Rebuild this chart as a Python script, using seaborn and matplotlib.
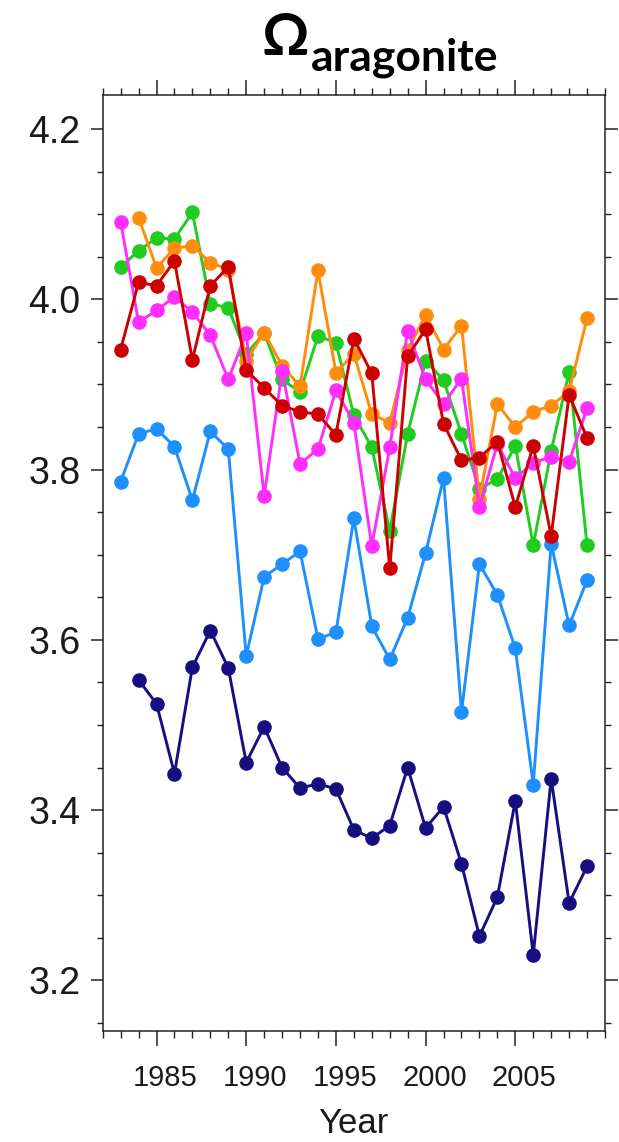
import numpy as np
import pandas as pd
import matplotlib
matplotlib.use("Agg")
import matplotlib.pyplot as plt
import matplotlib.transforms as mtransforms
from matplotlib.ticker import MultipleLocator
import seaborn as sns

years = list(range(1983, 2010))

navy = [np.nan, 3.553, 3.525, 3.443, 3.568, 3.611, 3.567, 3.456, 3.498, 3.450,
        3.426, 3.431, 3.425, 3.377, 3.367, 3.382, 3.450, 3.379, 3.404, 3.337,
        3.252, 3.298, 3.411, 3.230, 3.437, 3.291, 3.334]
blue = [3.786, 3.842, 3.848, 3.827, 3.764, 3.845, 3.824, 3.581, 3.674, 3.689,
        3.704, 3.601, 3.609, 3.743, 3.616, 3.577, 3.626, 3.702, 3.790, 3.515,
        3.689, 3.653, 3.590, 3.430, 3.713, 3.617, 3.670]
green = [4.038, 4.057, 4.072, 4.071, 4.102, 3.995, 3.990, 3.936, 3.960, 3.906,
         3.891, 3.957, 3.949, 3.864, 3.826, 3.728, 3.842, 3.928, 3.905, 3.842,
         3.777, 3.789, 3.828, 3.711, 3.822, 3.915, 3.711]
orange = [np.nan, 4.096, 4.037, 4.060, 4.063, 4.043, 4.035, 3.928, 3.961, 3.922,
          3.898, 4.034, 3.914, 3.936, 3.865, 3.855, 3.940, 3.982, 3.941, 3.969,
          3.766, 3.877, 3.850, 3.868, 3.875, 3.892, 3.978]
magenta = [4.091, 3.973, 3.987, 4.003, 3.985, 3.958, 3.906, 3.960, 3.769, 3.916,
           3.807, 3.824, 3.893, 3.855, 3.710, 3.826, 3.963, 3.906, 3.877, 3.907,
           3.756, 3.830, 3.790, 3.808, 3.815, 3.809, 3.872]
red = [3.941, 4.020, 4.016, 4.045, 3.929, 4.016, 4.038, 3.917, 3.896, 3.875,
       3.868, 3.865, 3.841, 3.954, 3.913, 3.684, 3.933, 3.965, 3.854, 3.811,
       3.814, 3.833, 3.756, 3.828, 3.722, 3.888, 3.837]

series = [
    ("navy", navy, "#170f80"),
    ("blue", blue, "#1e8fff"),
    ("green", green, "#1fcc1f"),
    ("orange", orange, "#ff8c0a"),
    ("magenta", magenta, "#ff2eff"),
    ("red", red, "#cc0000"),
]

xticks = [1985, 1990, 1995, 2000, 2005]
yticks = [3.2, 3.4, 3.6, 3.8, 4.0, 4.2]

sns.set_style("ticks")
plt.rcParams["font.family"] = ["Liberation Sans", "DejaVu Sans"]
plt.rcParams["text.color"] = "#1a1a1a"
plt.rcParams["xtick.color"] = "#1a1a1a"
plt.rcParams["ytick.color"] = "#1a1a1a"
plt.rcParams["axes.labelcolor"] = "#1a1a1a"

fig = plt.figure(figsize=(6.19, 11.42), dpi=100)
ax = fig.add_axes([102.7 / 619, 1 - 1030.7 / 1142, (605 - 102.7) / 619, (1030.7 - 95) / 1142])

for name, vals, col in series:
    df = pd.DataFrame({"Year": years, "val": vals}).dropna()
    sns.lineplot(data=df, x="Year", y="val", ax=ax, color=col, linewidth=2.1,
                 marker="o", markersize=10.5, markeredgewidth=0, markeredgecolor=col)

ax.set_xlim(1982, 2010)
ax.set_ylim(3.141, 4.24)
ax.set_xticks(xticks)
ax.set_xticklabels([str(t) for t in xticks])
ax.set_yticks(yticks)
ax.set_yticklabels([f"{t:.1f}" for t in yticks])
ax.xaxis.set_minor_locator(MultipleLocator(1))
ax.yaxis.set_minor_locator(MultipleLocator(0.05))

for s in ax.spines.values():
    s.set_visible(True)
    s.set_linewidth(1.1)
    s.set_color("#222222")

ax.tick_params(axis="x", which="major", direction="out", length=11, width=1.1,
               top=True, bottom=True, labelsize=21, pad=13, color="#222222")
ax.tick_params(axis="x", which="minor", direction="out", length=5, width=1.0,
               top=True, bottom=True, color="#222222")
ax.tick_params(axis="y", which="major", direction="out", length=9, width=1.1,
               left=True, right=True, labelsize=27, pad=7, color="#222222")
ax.tick_params(axis="y", which="minor", direction="out", length=4, width=1.0,
               left=True, right=True, color="#222222")

offset = mtransforms.ScaledTranslation(9 / 100, 0, fig.dpi_scale_trans)
for lab in ax.get_xticklabels():
    lab.set_transform(lab.get_transform() + offset)

ax.set_ylabel("")
ax.set_xlabel("Year", fontsize=25, labelpad=11)

fig.text(261 / 619, 1 - 55 / 1142, "Ω", fontsize=42, fontweight="bold",
         family=["Lato", "DejaVu Sans"], ha="left", va="baseline", color="black")
fig.text(311 / 619, 1 - 70 / 1142, "aragonite", fontsize=32, fontweight="bold",
         family=["Lato", "DejaVu Sans"], ha="left", va="baseline", color="black")

fig.savefig("out.png", dpi=100, facecolor="white")
